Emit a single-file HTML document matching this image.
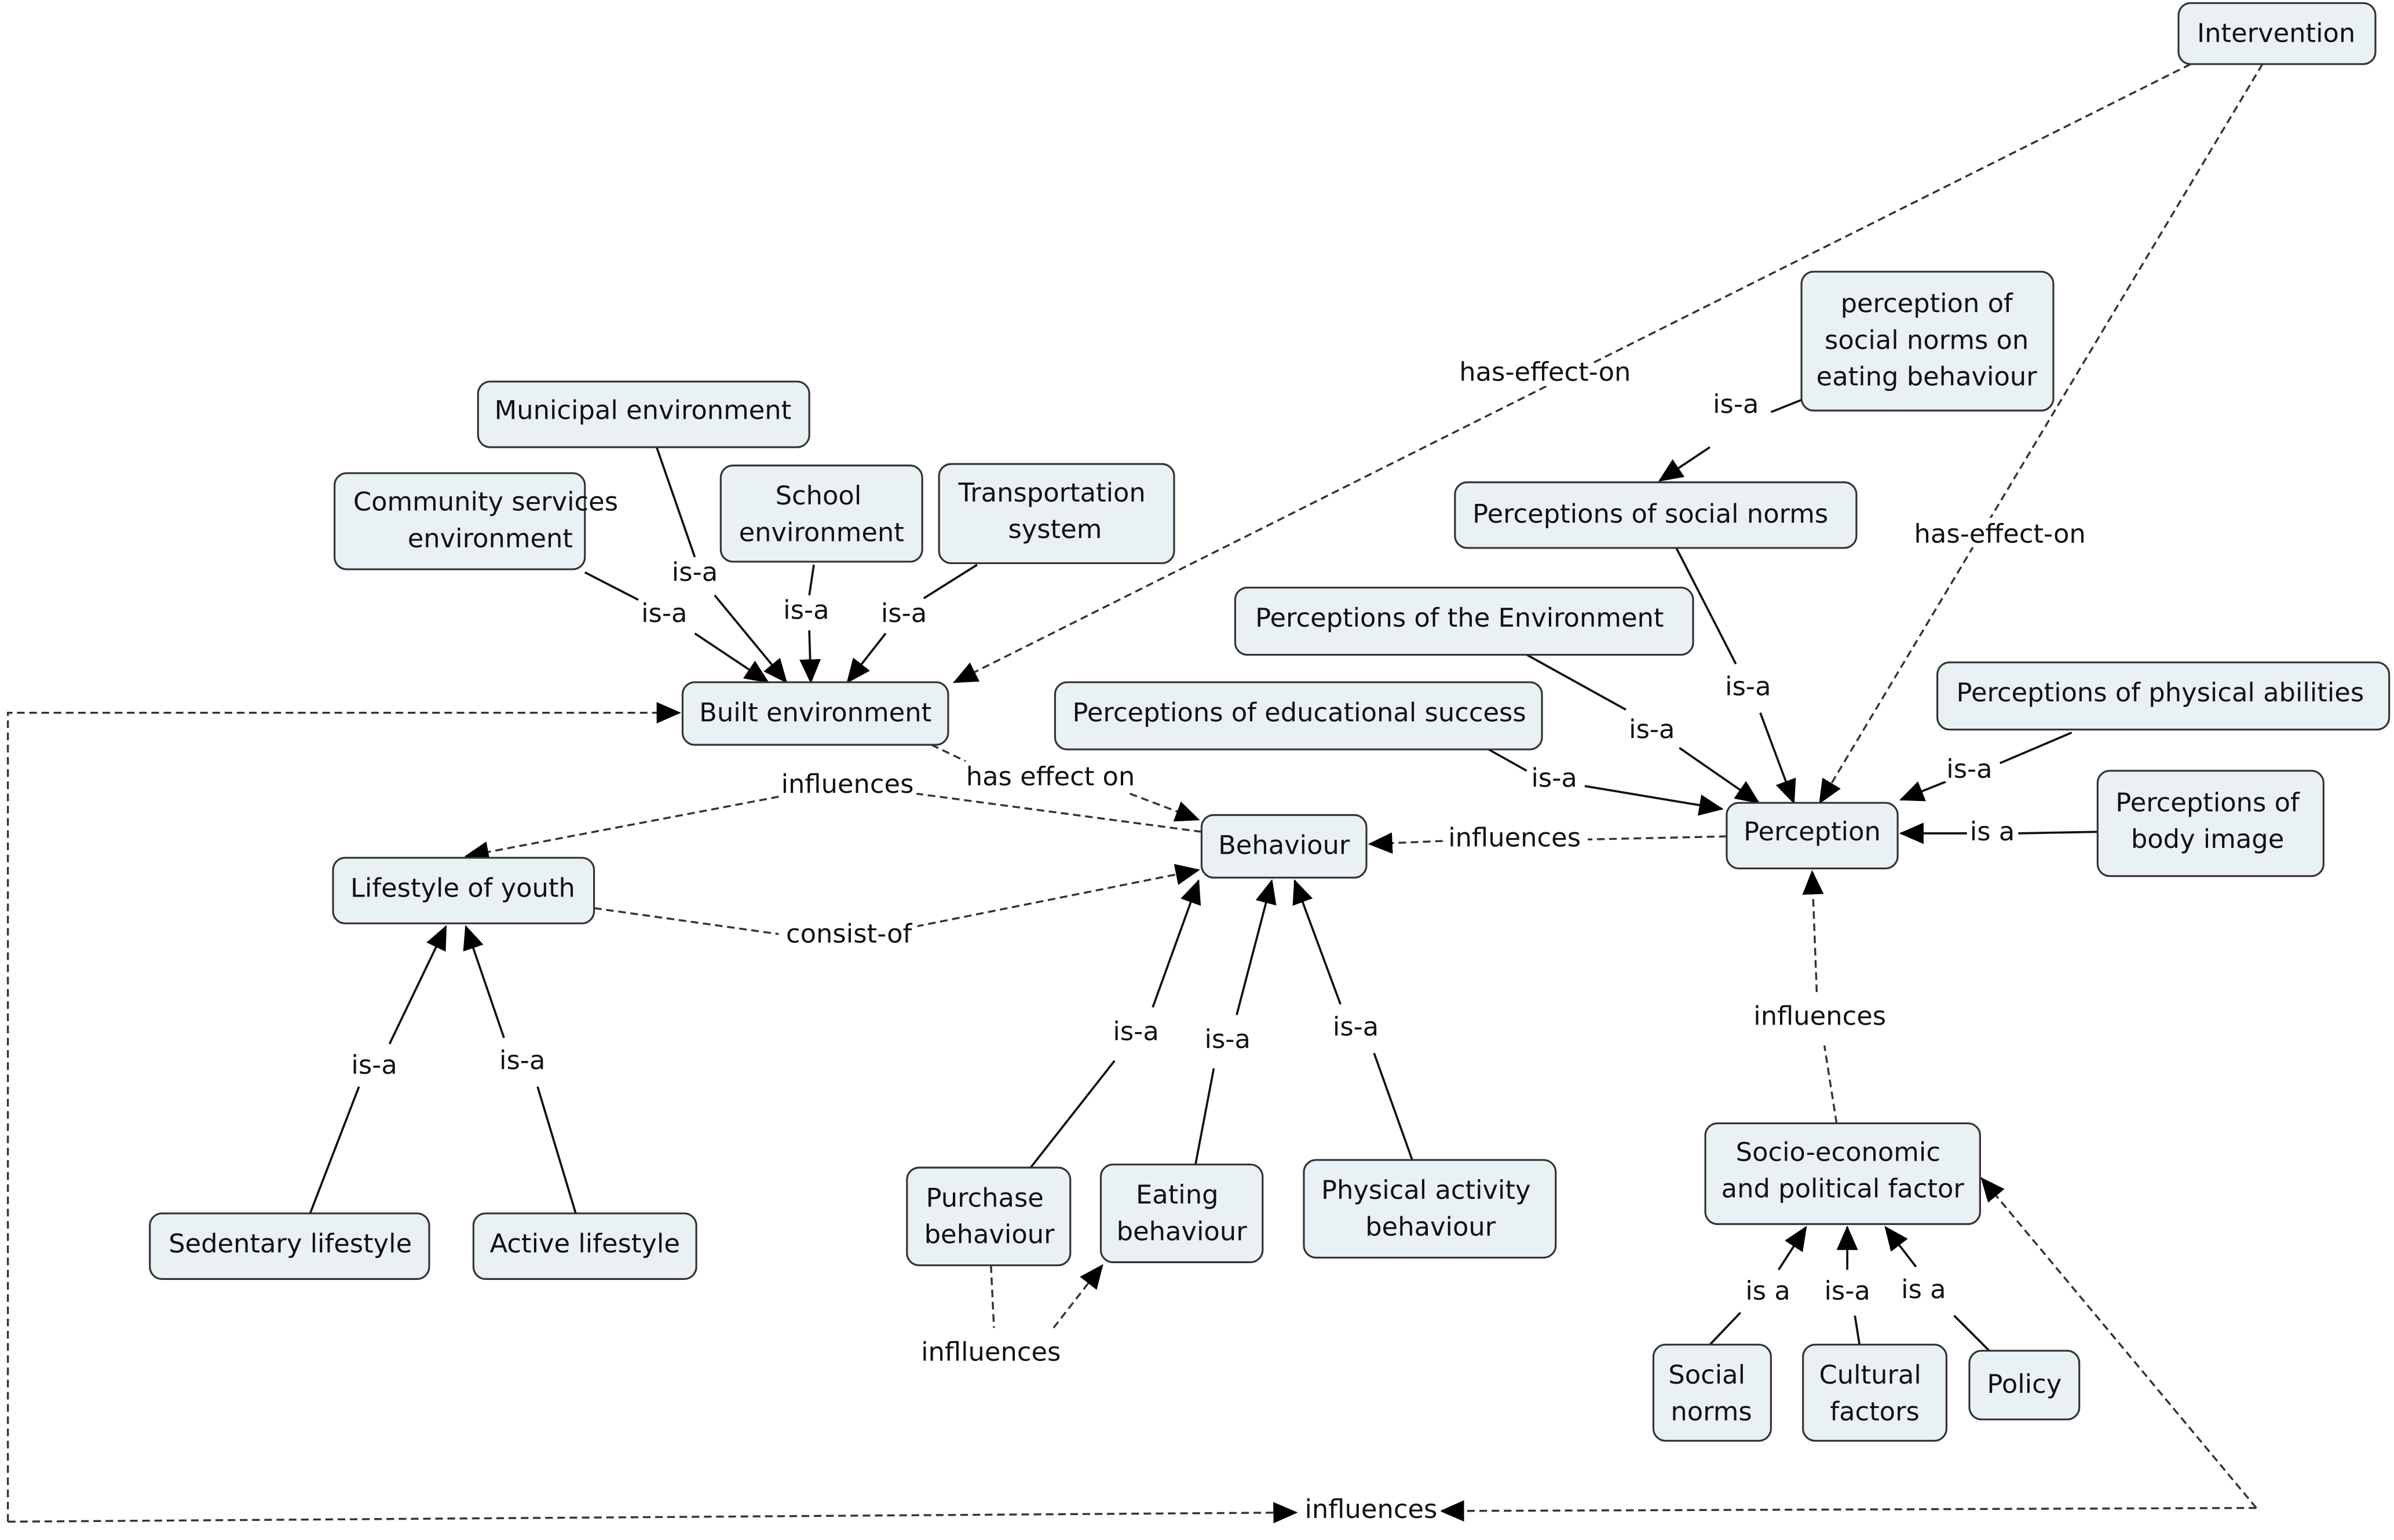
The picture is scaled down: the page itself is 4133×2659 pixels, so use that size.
<!DOCTYPE html>
<html><head><meta charset="utf-8"><style>
html,body{margin:0;padding:0;background:#fff;}
svg{display:block;}
.n rect{fill:#e9f1f5;stroke:#333;stroke-width:1.2;}
text{font-family:"DejaVu Sans","Liberation Sans",sans-serif;font-size:17px;fill:#111;text-anchor:middle;dominant-baseline:middle;}
.l{paint-order:stroke;stroke:#fff;stroke-width:7px;stroke-linejoin:round;}
.s{stroke:#111;stroke-width:1.4;fill:none;}
.d{stroke:#333;stroke-width:1.3;fill:none;stroke-dasharray:5,3;}
</style></head><body>
<svg width="4133" height="2659" viewBox="0 0 1568 1009" xmlns="http://www.w3.org/2000/svg">
<defs>
<marker id="a" markerUnits="userSpaceOnUse" markerWidth="16" markerHeight="14" refX="15" refY="7" orient="auto"><path d="M0,0 L16,7 L0,14 z" fill="#000"/></marker>
</defs>
<rect width="1568" height="1009" fill="#fff"/>
<g>
<path class="d" d="M1435,42 L625,447" marker-end="url(#a)"/>
<path class="d" d="M1482,42 L1192,526" marker-end="url(#a)"/>
<path class="s" d="M1180,262 L1160,270"/><path class="s" d="M1120,293 L1087,315" marker-end="url(#a)"/>
<path class="s" d="M430,293 L455,365"/><path class="s" d="M468,390 L515,447" marker-end="url(#a)"/>
<path class="s" d="M383,375 L418,393"/><path class="s" d="M455,415 L503,447" marker-end="url(#a)"/>
<path class="s" d="M533,370 L530,390"/><path class="s" d="M530,413 L531,447" marker-end="url(#a)"/>
<path class="s" d="M640,370 L605,392"/><path class="s" d="M580,415 L555,447" marker-end="url(#a)"/>
<path class="s" d="M1098,359 L1137,435"/><path class="s" d="M1153,467 L1175,526" marker-end="url(#a)"/>
<path class="s" d="M1000,429 L1065,465"/><path class="s" d="M1100,490 L1152,526" marker-end="url(#a)"/>
<path class="s" d="M975,491 L1000,505"/><path class="s" d="M1038,515 L1128,530" marker-end="url(#a)"/>
<path class="s" d="M1357,480 L1310,500"/><path class="s" d="M1275,512 L1245,524" marker-end="url(#a)"/>
<path class="s" d="M1374,545 L1322,546"/><path class="s" d="M1290,546 L1245,546" marker-end="url(#a)"/>
<path class="d" d="M1131,548 L1040,550"/><path class="d" d="M945,551 L897,553" marker-end="url(#a)"/>
<path class="d" d="M1203,736 L1195,685"/><path class="d" d="M1190,650 L1187,571" marker-end="url(#a)"/>
<path class="d" d="M610,488 L635,500"/><path class="d" d="M740,520 L785,537" marker-end="url(#a)"/>
<path class="d" d="M787,545 L600,520"/><path class="d" d="M510,522 L305,561" marker-end="url(#a)"/>
<path class="d" d="M389,595 L510,612"/><path class="d" d="M600,607 L785,570" marker-end="url(#a)"/>
<path class="s" d="M203,795 L235,712"/><path class="s" d="M255,684 L292,607" marker-end="url(#a)"/>
<path class="s" d="M377,795 L352,712"/><path class="s" d="M330,680 L305,607" marker-end="url(#a)"/>
<path class="s" d="M675,765 L730,695"/><path class="s" d="M755,660 L785,577" marker-end="url(#a)"/>
<path class="s" d="M783,763 L795,700"/><path class="s" d="M810,665 L833,577" marker-end="url(#a)"/>
<path class="s" d="M925,760 L900,690"/><path class="s" d="M878,658 L848,577" marker-end="url(#a)"/>
<path class="d" d="M649,829 L651,870"/><path class="d" d="M690,870 L722,829" marker-end="url(#a)"/>
<path class="s" d="M1120,881 L1140,860"/><path class="s" d="M1165,832 L1183,804" marker-end="url(#a)"/>
<path class="s" d="M1218,881 L1215,862"/><path class="s" d="M1210,832 L1210,804" marker-end="url(#a)"/>
<path class="s" d="M1303,885 L1280,862"/><path class="s" d="M1255,830 L1235,804" marker-end="url(#a)"/>
<path class="d" d="M5,997 L5,467 L445,467" marker-end="url(#a)"/>
<path class="d" d="M5,997 L849,991" marker-end="url(#a)"/>
<path class="d" d="M1478,988 L944,990" marker-end="url(#a)"/>
<path class="d" d="M1478,988 L1298,772" marker-end="url(#a)"/>
</g>
<g>
<text class="l" x="1012" y="245">has-effect-on</text>
<text class="l" x="1310" y="351">has-effect-on</text>
<text class="l" x="1137" y="266">is-a</text>
<text class="l" x="455" y="376">is-a</text>
<text class="l" x="435" y="403">is-a</text>
<text class="l" x="528" y="401">is-a</text>
<text class="l" x="592" y="403">is-a</text>
<text class="l" x="1145" y="451">is-a</text>
<text class="l" x="1082" y="479">is-a</text>
<text class="l" x="1018" y="511">is-a</text>
<text class="l" x="1290" y="505">is-a</text>
<text class="l" x="1305" y="546">is a</text>
<text class="l" x="992" y="550">influences</text>
<text class="l" x="1192" y="667">influences</text>
<text class="l" x="688" y="510">has effect on</text>
<text class="l" x="555" y="515">influences</text>
<text class="l" x="556" y="613">consist-of</text>
<text class="l" x="245" y="699">is-a</text>
<text class="l" x="342" y="696">is-a</text>
<text class="l" x="744" y="677">is-a</text>
<text class="l" x="804" y="682">is-a</text>
<text class="l" x="888" y="674">is-a</text>
<text class="l" x="649" y="887">inflluences</text>
<text class="l" x="1158" y="847">is a</text>
<text class="l" x="1210" y="847">is-a</text>
<text class="l" x="1260" y="846">is a</text>
<text class="l" x="898" y="990">influences</text>
</g>
<g class="n">
<rect x="1427" y="2" width="129" height="40" rx="8"/><text x="1491" y="23">Intervention</text>
<rect x="1180" y="178" width="165" height="91" rx="8"/><text x="1262" y="200">perception of</text><text x="1262" y="224">social norms on</text><text x="1262" y="248">eating behaviour</text>
<rect x="313" y="250" width="217" height="43" rx="8"/><text x="421" y="270">Municipal environment</text>
<rect x="219" y="310" width="164" height="63" rx="8"/><text x="318" y="330">Community services</text><text x="321" y="354">environment</text>
<rect x="472" y="305" width="132" height="63" rx="8"/><text x="536" y="326">School</text><text x="538" y="350">environment</text>
<rect x="615" y="304" width="154" height="65" rx="8"/><text x="689" y="324">Transportation</text><text x="691" y="348">system</text>
<rect x="953" y="316" width="263" height="43" rx="8"/><text x="1081" y="338">Perceptions of social norms</text>
<rect x="809" y="385" width="300" height="44" rx="8"/><text x="956" y="406">Perceptions of the Environment</text>
<rect x="447" y="447" width="174" height="41" rx="8"/><text x="534" y="468">Built environment</text>
<rect x="691" y="447" width="319" height="44" rx="8"/><text x="851" y="468">Perceptions of educational success</text>
<rect x="1269" y="434" width="296" height="44" rx="8"/><text x="1415" y="455">Perceptions of physical abilities</text>
<rect x="1374" y="505" width="148" height="69" rx="8"/><text x="1446" y="527">Perceptions of</text><text x="1446" y="551">body image</text>
<rect x="1131" y="526" width="112" height="43" rx="8"/><text x="1187" y="546">Perception</text>
<rect x="787" y="534" width="108" height="41" rx="8"/><text x="841" y="555">Behaviour</text>
<rect x="218" y="562" width="171" height="43" rx="8"/><text x="303" y="583">Lifestyle of youth</text>
<rect x="98" y="795" width="183" height="43" rx="8"/><text x="190" y="816">Sedentary lifestyle</text>
<rect x="310" y="795" width="146" height="43" rx="8"/><text x="383" y="816">Active lifestyle</text>
<rect x="594" y="765" width="107" height="64" rx="8"/><text x="645" y="786">Purchase</text><text x="648" y="810">behaviour</text>
<rect x="721" y="763" width="106" height="64" rx="8"/><text x="771" y="784">Eating</text><text x="774" y="808">behaviour</text>
<rect x="854" y="760" width="165" height="64" rx="8"/><text x="934" y="781">Physical activity</text><text x="937" y="805">behaviour</text>
<rect x="1117" y="736" width="180" height="66" rx="8"/><text x="1204" y="756">Socio-economic</text><text x="1207" y="780">and political factor</text>
<rect x="1083" y="881" width="77" height="63" rx="8"/><text x="1118" y="902">Social</text><text x="1121" y="926">norms</text>
<rect x="1181" y="881" width="94" height="63" rx="8"/><text x="1225" y="902">Cultural</text><text x="1228" y="926">factors</text>
<rect x="1290" y="885" width="72" height="45" rx="8"/><text x="1326" y="908">Policy</text>
</g>
</svg>
</body></html>
